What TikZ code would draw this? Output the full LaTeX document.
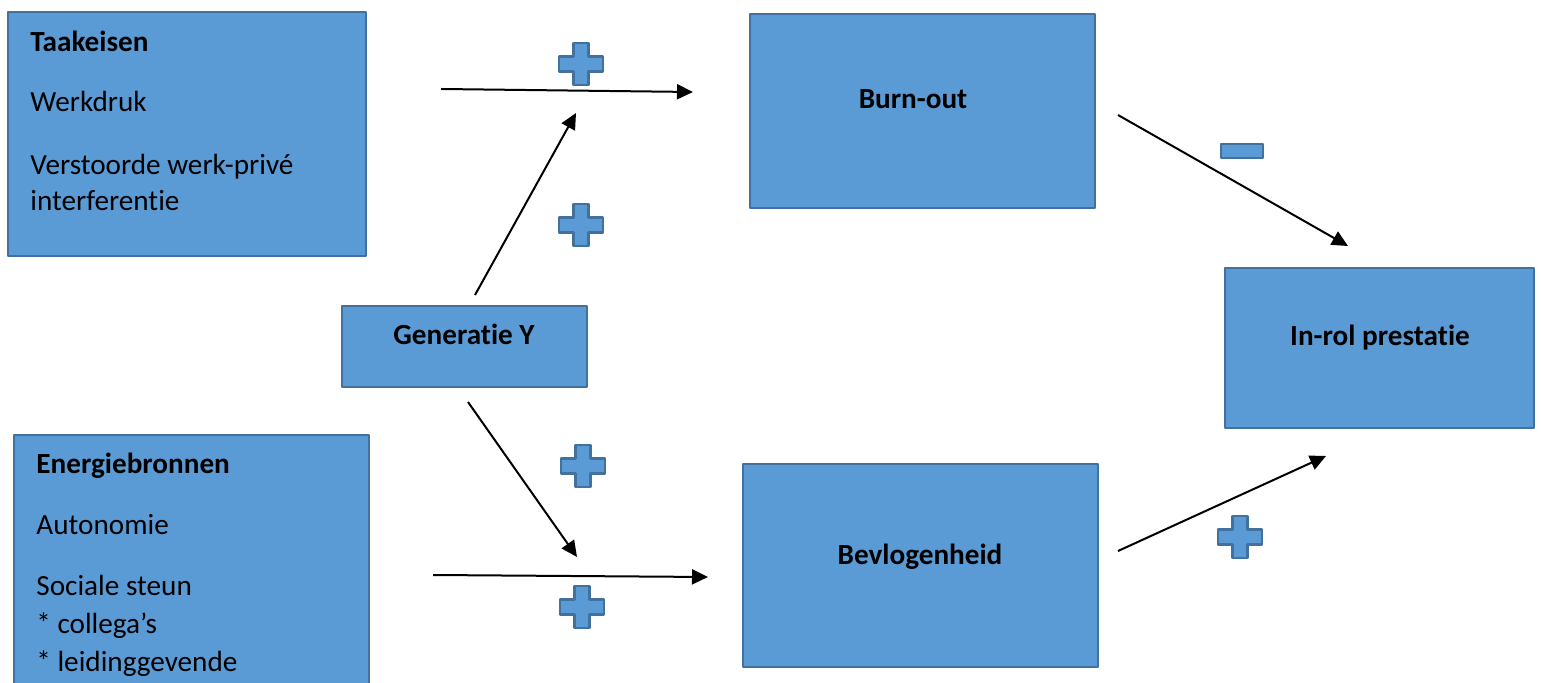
\documentclass[tikz,border=0pt]{standalone}
\usepackage{fontspec}
\setmainfont[RawFeature=-liga]{Carlito}
\usetikzlibrary{arrows.meta}
\definecolor{boxfill}{HTML}{5B9BD5}
\definecolor{boxline}{HTML}{41719C}
\tikzset{box/.style={draw=boxline,fill=boxfill,line width=1pt,inner sep=0pt}}
\tikzset{t/.style={font=\fontsize{14.6}{17}\selectfont,inner sep=0pt}}
\tikzset{tb/.style={font=\fontsize{14.6}{17}\selectfont\bfseries,inner sep=0pt}}
\tikzset{pijl/.style={line width=1pt,-{Triangle[length=8pt,width=7.5pt]}}}
\tikzset{plusteken/.pic={
  \filldraw[draw=boxline,fill=boxfill,line width=1.2pt](-7.5,-21)--(7.5,-21)--(7.5,-7.5)--(22,-7.5)--(22,7.5)--(7.5,7.5)--(7.5,21)--(-7.5,21)--(-7.5,7.5)--(-22,7.5)--(-22,-7.5)--(-7.5,-7.5)--cycle;}}

\begin{document}
\begin{tikzpicture}[x=0.5pt,y=-0.5pt,line join=round]
  \clip (0,0) rectangle (1541,683);
  % vakken
  \node[box,minimum width=179pt,minimum height=122pt] (taak) at (187,134) {};
  \node[box,minimum width=172.5pt,minimum height=97pt] (burn) at (922.5,111) {};
  \node[box,minimum width=122.5pt,minimum height=40.5pt] (gen) at (464.5,346.5) {};
  \node[box,minimum width=154.5pt,minimum height=80pt] (inrol) at (1379.5,348) {};
  \node[box,minimum width=177.5pt,minimum height=132.5pt] (energ) at (191.5,567.5) {};
  \node[box,minimum width=177.5pt,minimum height=101.5pt] (bevl) at (920.5,565.5) {};
  % teksten
  \node[tb,anchor=base west] (taak1) at (30,52) {Taakeisen};
  \node[t,anchor=base west] (taak2) at (30,112) {Werkdruk};
  \node[t,anchor=base west] (taak3) at (30,175) {Verstoorde werk-privé};
  \node[t,anchor=base west] (taak4) at (30,211) {interferentie};
  \node[tb,anchor=base west] (energ1) at (36,474) {Energiebronnen};
  \node[t,anchor=base west] (energ2) at (36,535) {Autonomie};
  \node[t,anchor=base west] (energ3) at (36,595) {Sociale steun};
  \node[t,anchor=base west] (energ4) at (36,633) {* collega’s};
  \node[t,anchor=base west] (energ5) at (36,671) {* leidinggevende};
  \node[tb,anchor=base] (burn1) at (913,109) {Burn-out};
  \node[tb,anchor=base] (gen1) at (464,345) {Generatie Y};
  \node[tb,anchor=base] (inrol1) at (1380,346) {In-rol prestatie};
  \node[tb,anchor=base] (bevl1) at (920,564) {Bevlogenheid};
  % pijlen
  \coordinate (a1) at (441,89);   \coordinate (a2) at (693,92);
  \coordinate (b1) at (475,295);  \coordinate (b2) at (576,113);
  \coordinate (c1) at (1118,115); \coordinate (c2) at (1348,246);
  \coordinate (d1) at (468,402);  \coordinate (d2) at (577,557);
  \coordinate (e1) at (433,575);  \coordinate (e2) at (708,577);
  \coordinate (f1) at (1118,551); \coordinate (f2) at (1326,456);
  \draw[pijl] (a1) -- (a2);
  \draw[pijl] (b1) -- (b2);
  \draw[pijl] (c1) -- (c2);
  \draw[pijl] (d1) -- (d2);
  \draw[pijl] (e1) -- (e2);
  \draw[pijl] (f1) -- (f2);
  % tekens
  \pic at (581,64) {plusteken};
  \pic at (581,225) {plusteken};
  \pic at (583,466) {plusteken};
  \pic at (582,607) {plusteken};
  \pic at (1240,537) {plusteken};
  \filldraw[draw=boxline,fill=boxfill,line width=1.2pt] (1221,144) rectangle (1263,158);
\end{tikzpicture}
\end{document}
